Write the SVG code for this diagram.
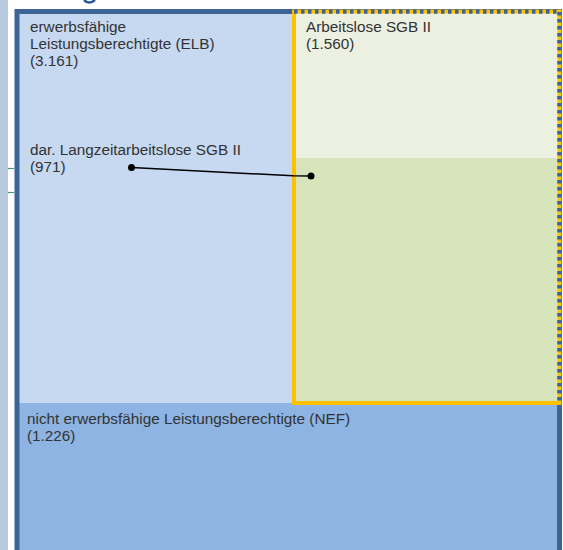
<svg xmlns="http://www.w3.org/2000/svg" width="563" height="550" viewBox="0 0 563 550">
<style>
  .t { font-family: "Liberation Sans", Arial, sans-serif; font-size: 15.3px; fill: #333333; }
  .dot { fill: #000000; }
</style>
<rect x="0" y="0" width="563" height="550" fill="#ffffff"/>
<g id="side">
  <rect x="0" y="0" width="8" height="550" fill="#b9c9dd"/>
  <line x1="8" y1="168.5" x2="14" y2="168.5" stroke="#3f9a6e" stroke-width="1.2"/>
  <line x1="8" y1="192.5" x2="14" y2="192.5" stroke="#3f9a6e" stroke-width="1.2"/>
  <path d="M84 0 Q89 5 95 0" fill="none" stroke="#2a5596" stroke-width="2.5"/>
</g>
<g id="elb">
  <rect x="17" y="11.5" width="277" height="392" fill="#c6d9f1"/>
  <text class="t" x="30" y="32">erwerbsfähige</text>
  <text class="t" x="30" y="49">Leistungsberechtigte (ELB)</text>
  <text class="t" x="30" y="66">(3.161)</text>
</g>
<g id="ltal">
  <text class="t" x="30" y="155">dar. Langzeitarbeitslose SGB II</text>
  <text class="t" x="30" y="172">(971)</text>
</g>
<g id="nef">
  <rect x="17" y="403" width="543" height="150" fill="#8db4e2"/>
  <text class="t" x="27" y="424">nicht erwerbsfähige Leistungsberechtigte (NEF)</text>
  <text class="t" x="27" y="441">(1.226)</text>
</g>
<g id="outer">
  <rect x="17" y="11.5" width="542.5" height="560" fill="none" stroke="#3c6494" stroke-width="5"/>
</g>
<g id="al">
  <rect x="294" y="11.5" width="265.5" height="147" fill="#ebf0e0"/>
  <rect x="294" y="158" width="265.5" height="245" fill="#d8e4bc"/>
  <rect x="294" y="11.5" width="265.5" height="391.5" fill="none" stroke="#ffc000" stroke-width="4"/>
  <path d="M294 11.5 H559.5 V403" fill="none" stroke="#3c6494" stroke-width="4.5" stroke-dasharray="3.5 3.5"/>
  <text class="t" x="306" y="32">Arbeitslose SGB II</text>
  <text class="t" x="306" y="49">(1.560)</text>
</g>
<g id="connectors">
  <polyline points="131.5,167.5 293,175.8 311,176" fill="none" stroke="#000000" stroke-width="1.5"/>
  <circle class="dot" cx="131.5" cy="167.5" r="3.5"/>
  <circle class="dot" cx="311" cy="176" r="3.5"/>
</g>
</svg>
